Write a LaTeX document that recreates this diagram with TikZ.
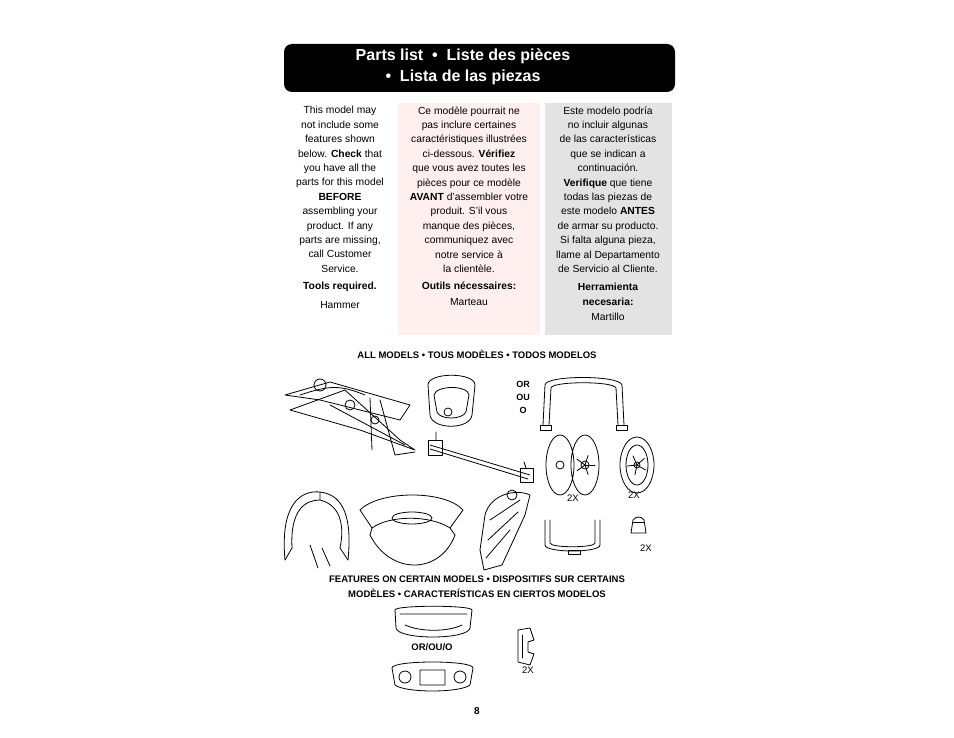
\documentclass[tikz,border=0pt]{standalone}
\usepackage{fontspec}
\setmainfont{Liberation Sans}
\begin{document}
\begin{tikzpicture}[x=1pt,y=-1pt,
 col/.style={align=center,font=\fontsize{10.3}{14.4}\selectfont,anchor=north},
 hd/.style={font=\fontsize{9.5}{15}\selectfont\bfseries,align=center},
 ln/.style={line width=0.8pt,line join=round,line cap=round},
 tx/.style={font=\fontsize{9.5}{11}\selectfont}]
\useasboundingbox (0,0) rectangle (954,738);
\fill[white] (0,0) rectangle (954,738);
\fill[black,rounded corners=8pt] (284,44) rectangle (675,92);
\node[white,align=center,font=\fontsize{16}{21}\selectfont\bfseries] (title) at (463,67) {Parts list \ \textbullet\ \ Liste des pi\`eces\\\textbullet\ \ Lista de las piezas};
\fill[pink!25] (398,103) rectangle (540,335);
\fill[gray!22] (545,103) rectangle (672,335);
\node[col] (c1) at (340,103) {This model may\\not include some\\features shown\\below. \textbf{Check} that\\you have all the\\parts for this model\\\textbf{BEFORE}\\assembling your\\product. If any\\parts are missing,\\call Customer\\Service.\\[3pt]\textbf{Tools required.}\\[4pt]Hammer};
\node[col] (c2) at (469,103) {Ce mod\`ele pourrait ne\\pas inclure certaines\\caract\'eristiques illustr\'ees\\ci-dessous. \textbf{V\'erifiez}\\que vous avez toutes les\\pi\`eces pour ce mod\`ele\\\textbf{AVANT} d'assembler votre\\produit. S'il vous\\manque des pi\`eces,\\communiquez avec\\notre service \`a\\la client\`ele.\\[3pt]\textbf{Outils n\'ecessaires:}\\[1pt]Marteau};
\node[col] (c3) at (608,103) {Este modelo podr\'ia\\no incluir algunas\\de las caracter\'isticas\\que se indican a\\continuaci\'on.\\\textbf{Verifique} que tiene\\todas las piezas de\\este modelo \textbf{ANTES}\\de armar su producto.\\Si falta alguna pieza,\\llame al Departamento\\de Servicio al Cliente.\\[4pt]\textbf{Herramienta}\\\textbf{necesaria:}\\[1pt]Martillo};
\node[hd] (h1) at (477,354) {ALL MODELS \textbullet\ TOUS MOD\`ELES \textbullet\ TODOS MODELOS};
\node[hd] (h2) at (477,587) {FEATURES ON CERTAIN MODELS \textbullet\ DISPOSITIFS SUR CERTAINS\\MOD\`ELES \textbullet\ CARACTER\'ISTICAS EN CIERTOS MODELOS};
\node[hd,font=\fontsize{9}{13}\selectfont\bfseries] (or1) at (523,397) {OR\\OU\\O};
\node[hd] (or2) at (432,647) {OR/OU/O};
\node[tx] (x1) at (573,498) {2X};
\node[tx] (x2) at (634,495) {2X};
\node[tx] (x3) at (646,548) {2X};
\node[tx] (x4) at (528,670) {2X};
\node[font=\fontsize{10}{12}\selectfont\bfseries] (pg) at (477,711) {8};
% folded stroller frame
\draw[ln] (285,395) -- (330,382) -- (410,405) -- (400,420) -- (320,400) -- cycle;
\draw[ln] (290,410) -- (345,390) -- (400,440) -- (415,450) -- (360,430) -- cycle;
\draw[ln] (300,395) .. controls (330,385) and (340,385) .. (365,395);
\draw[ln] (330,405) -- (405,445) (370,398) -- (372,450) (380,400) -- (395,455) -- (415,452);
\draw[ln] (320,385) circle (6) (350,405) circle (5) (375,420) circle (4);
% front bumper bar
\draw[ln] (428,385) .. controls (428,372) and (475,372) .. (475,385) -- (472,415) .. controls (470,430) and (432,430) .. (430,415) -- cycle;
\draw[ln] (434,395) .. controls (436,385) and (468,385) .. (469,395) -- (466,412) .. controls (462,420) and (440,420) .. (437,412) -- cycle;
\draw[ln] (448,412) circle (4);
% handle bar U
\draw[ln] (543,425) -- (545,385) .. controls (545,375) and (620,375) .. (622,385) -- (624,425);
\draw[ln] (549,425) -- (551,388) .. controls (552,381) and (614,381) .. (616,388) -- (618,425);
\draw[ln] (540,425) rectangle (551,430) (616,425) rectangle (627,430);
% axle
\draw[ln] (430,445) -- (530,475) (430,449) -- (528,479);
\draw[ln] (428,440) rectangle (442,455) (520,468) rectangle (533,482);
\draw[ln] (436,432) -- (436,440) (524,462) -- (526,468);
% pair of wheels
\draw[ln] (560,465) ellipse (14 and 30) (585,465) ellipse (14 and 30);
\draw[ln] (560,465) circle (4) (585,465) circle (4);
\foreach \a in {0,72,144,216,288}{\draw[ln] (585,465) -- ++(\a:10);}
% single wheel
\draw[ln] (637,465) ellipse (17 and 28) (637,465) ellipse (11 and 20) (637,465) circle (3);
\foreach \a in {30,102,174,246,318}{\draw[ln] (637,465) -- ++(\a:10);}
% canopy
\draw[ln] (285,560) .. controls (280,505) and (300,490) .. (320,492) .. controls (345,495) and (352,520) .. (348,560);
\draw[ln] (292,548) .. controls (290,510) and (305,500) .. (320,500) .. controls (340,505) and (345,525) .. (340,548);
\draw[ln] (285,560) -- (292,548) (348,560) -- (340,548) (320,492) -- (320,500);
\draw[ln] (310,545) -- (318,568) (322,548) -- (330,566);
% seat
\draw[ln] (360,510) .. controls (380,490) and (445,490) .. (463,510) -- (450,528) .. controls (430,515) and (390,515) .. (372,528) -- cycle;
\draw[ln] (370,535) .. controls (390,575) and (440,575) .. (455,535);
\draw[ln] (372,528) -- (370,535) (450,528) -- (455,535);
\draw[ln] (412,518) ellipse (20 and 6);
% side panel
\draw[ln] (485,515) .. controls (490,495) and (515,488) .. (530,495) -- (525,515) -- (502,565) -- (484,570) -- (480,550) -- cycle;
\draw[ln] (490,520) -- (520,500) (488,540) -- (518,512) (486,558) -- (510,530);
\draw[ln] (512,495) circle (5);
% small U bar
\draw[ln] (545,520) -- (545,545) .. controls (545,553) and (600,553) .. (600,545) -- (600,520);
\draw[ln] (550,520) -- (550,543) .. controls (550,548) and (595,548) .. (595,543) -- (595,520);
\draw[ln] (568,550) rectangle (580,554);
% cap
\draw[ln] (631,533) -- (633,520) .. controls (636,516) and (641,516) .. (644,520) -- (646,533) -- cycle;
\draw[ln] (633,522) -- (644,522);
% tray
\draw[ln] (395,610) .. controls (395,605) and (472,605) .. (472,610) -- (470,628) .. controls (468,640) and (398,640) .. (396,628) -- cycle;
\draw[ln] (400,614) -- (467,614) (405,625) .. controls (420,632) and (448,632) .. (462,625);
% bumper tray
\draw[ln] (392,668) .. controls (392,660) and (473,660) .. (473,668) -- (470,685) .. controls (460,693) and (405,693) .. (395,685) -- cycle;
\draw[ln] (405,677) circle (6) (460,677) circle (6) (420,670) rectangle (445,685);
% clip
\draw[ln] (518,630) -- (530,628) -- (534,640) -- (528,642) -- (528,652) -- (534,654) -- (530,665) -- (518,662) -- cycle;
\draw[ln] (522,635) -- (522,658);
\end{tikzpicture}
\end{document}
